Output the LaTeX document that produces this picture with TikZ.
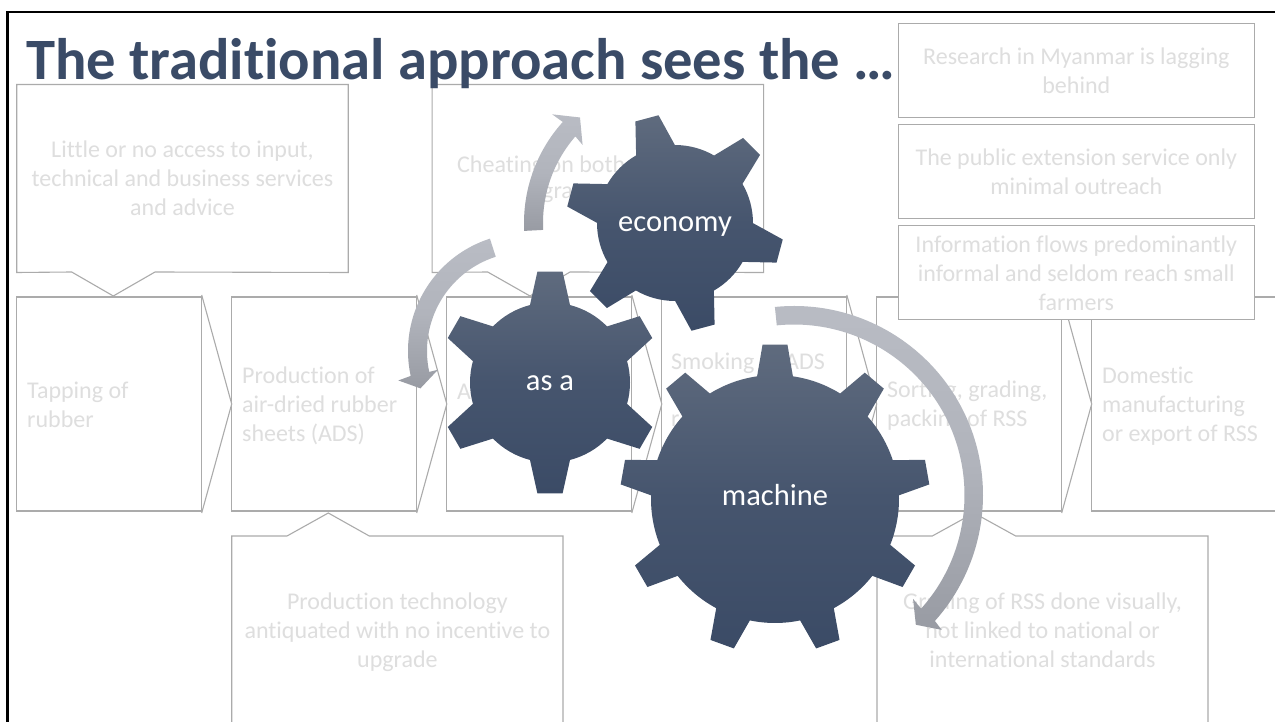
\documentclass[tikz,border=0pt]{standalone}
\usepackage{fontspec}
\setmainfont{Carlito}[Ligatures=NoCommon]
\usepackage{xcolor}
\usepackage{tikz}
\usetikzlibrary{positioning,calc}

\definecolor{titleblue}{HTML}{3A4B67}
\definecolor{gearlight}{HTML}{5F6B7E}
\definecolor{gearmid}{HTML}{46556E}
\definecolor{geardark}{HTML}{3B4B66}
\definecolor{flowlight}{HTML}{B9BCC4}
\definecolor{flowmid}{HTML}{B1B4BC}
\definecolor{flowdark}{HTML}{989BA3}
\definecolor{outlinegray}{HTML}{ABABAB}
\definecolor{fadedtext}{HTML}{DEDEDE}

% centre x, centre y, body radius, tip radius, base half angle, tip half angle, first angle, step
\newcommand{\gearshape}[8]{
    \shade[gearbody, shift={(#1,#2)}] (#7-#5:#3)
        \foreach \a in {1,...,\numexpr360/#8\relax} {
            -- (#7+\a*#8-#8-#5:#3) -- (#7+\a*#8-#8-#6:#4) -- (#7+\a*#8-#8+#6:#4) -- (#7+\a*#8-#8+#5:#3)
            arc[start angle=#7+\a*#8-#8+#5, end angle=#7+\a*#8-#5, radius=#3]
        } -- cycle;
}

\begin{document}
\begin{tikzpicture}[
    x=1pt, y=-1pt,
    outline/.style={draw=outlinegray, line width=1.1pt},
    faded/.style={text=fadedtext, font=\fontsize{24}{29}\selectfont},
    stagebox/.style={rectangle, outline, fill=white, faded, minimum width=185pt, minimum height=214pt, inner sep=0pt, outer sep=0pt},
    stagetext/.style={faded, anchor=west, align=left, inner sep=0pt},
    issue/.style={rectangle, faded, minimum width=331.5pt, minimum height=188pt, inner sep=0pt, outer sep=0pt, align=center},
    sidebox/.style={rectangle, outline, fill=white, faded, minimum width=355.5pt, minimum height=94pt, inner sep=0pt, outer sep=0pt, align=center},
    gearbody/.style={top color=gearlight, bottom color=geardark, middle color=gearmid},
    gearlabel/.style={text=white, anchor=base, font=\fontsize{30.5}{36}\selectfont},
    flow/.style={top color=flowlight, bottom color=flowdark, middle color=flowmid}
]
    \useasboundingbox (0,0) rectangle (1275,722);
    \clip (0,0) rectangle (1275,722);
    \fill[white] (0,0) rectangle (1275,722);

    % Frame
    \draw[black, line width=2.8pt] (7.7,722) -- (7.7,12) -- (1275,12);

    % Value chain
    \node[stagebox] (tapping) at (109.2,404) {};
    \node[stagebox] (production) at (324.2,404) {};
    \node[stagebox] (assembly) at (539.3,404) {};
    \node[stagebox] (smoking) at (754.3,404) {};
    \node[stagebox] (sorting) at (969.2,404) {};
    \node[stagebox] (domestic) at (1184.2,404) {};

    \node[stagetext] (tappingtext) at (27,405) {Tapping of\\rubber};
    \node[stagetext] (productiontext) at (242,406) {Production of\\air-dried rubber\\sheets (ADS)};
    \node[stagetext] (assemblytext) at (457,392) {A};
    \node[stagetext] (smokingtext) at (671,363) {Smoking of ADS};
    \node[stagetext] (smokinglow) at (671,421) {r};
    \node[stagetext] (sortingtext) at (887,406) {Sorting, grading,\\packing of RSS};
    \node[stagetext] (domestictext) at (1102,406) {Domestic\\manufacturing\\or export of RSS};

    % Chevrons
    \draw[outline] ([yshift=2pt]tapping.north east) -- (production.west) -- ([yshift=-2pt]tapping.south east);
    \draw[outline] ([yshift=2pt]production.north east) -- (assembly.west) -- ([yshift=-2pt]production.south east);
    \draw[outline] ([yshift=2pt]assembly.north east) -- (smoking.west) -- ([yshift=-2pt]assembly.south east);
    \draw[outline] ([yshift=2pt]smoking.north east) -- (sorting.west) -- ([yshift=-2pt]smoking.south east);
    \draw[outline] ([yshift=2pt]sorting.north east) -- (domestic.west) -- ([yshift=-2pt]sorting.south east);

    % Callouts
    \node[issue] (services) at (182.5,178.5) {Little or no access to input,\\technical and business services\\and advice};
    \draw[outline] (services.north west) -- (services.north east) -- (services.south east) -- (155,272) -- (113.3,296) -- (71.7,272) -- (services.south west) -- cycle;
    \node[issue] (cheating) at (597.8,178.5) {};
    \draw[outline] (cheating.north west) -- (cheating.north east) -- (cheating.south east) -- (570,272) -- (530,296) -- (487.7,272) -- (cheating.south west) -- cycle;
    \node[faded, anchor=west, inner sep=0pt] (cheatingtop) at (457,166) {Cheating on both};
    \node[faded, anchor=west, inner sep=0pt] (cheatinglow) at (542,195) {gra};
    \node[issue] (technology) at (397.4,632) {Production technology\\antiquated with no incentive to\\upgrade};
    \draw[outline] (231.7,722) -- (231.7,536) -- (287,536) -- (328.3,513) -- (369.3,536) -- (563,536) -- (563,722);
    \node[issue] (gradingbox) at (1042.5,630) {Grading of RSS done visually,\\not linked to national or\\international standards};
    \draw[outline] (877,722) -- (877,536) -- (932.3,536) -- (974,513) -- (1015.7,536) -- (1208,536) -- (1208,722);

    % Side boxes
    \node[sidebox] (research) at (1076.3,70.5) {Research in Myanmar is lagging\\behind};
    \node[sidebox] (extension) at (1076.3,171.5) {The public extension service only\\minimal outreach};
    \node[sidebox] (information) at (1076.3,272.8) {Information flows predominantly\\informal and seldom reach small\\farmers};

    % Title
    \node[anchor=base west, inner sep=0pt, text=titleblue, font=\fontsize{58.6}{64}\selectfont\bfseries] (title) at (26,80) {The traditional approach sees the …};

    % Arrows
    \shade[flow, shift={(675,223)}] (177:151) arc[start angle=177, end angle=222, radius=151] -- (221.5:164) -- (228:142) -- (220.2:121) -- (221:132) arc[start angle=221, end angle=177, radius=132] -- cycle;
    \shade[flow, shift={(526,351)}] (252.2:118) arc[start angle=252.2, end angle=167.8, radius=118] -- (167:131) -- (160.5:112) -- (168:90) -- (167.8:99) arc[start angle=167.8, end angle=252.2, radius=99] -- cycle;
    \shade[flow, shift={(794,495)}] (-95.8:189) arc[start angle=-95.8, end angle=41.8, radius=189] -- (42.4:200) -- (46.8:178) -- (41.1:158) -- (41.8:170.5) arc[start angle=41.8, end angle=-95.8, radius=170.5] -- cycle;

    % Gears
    \gearshape{775}{499}{124}{155}{8.3}{4.6}{-90}{40}
    \gearshape{550}{382.5}{80}{111.5}{14.5}{6.5}{-90}{60}
    \gearshape{675}{223}{78}{109}{14.9}{6.3}{-105}{60}

    \node[gearlabel] (machine) at (775,505) {machine};
    \node[gearlabel] (asa) at (550,390) {as a};
    \node[gearlabel] (economy) at (675,232) {economy};
\end{tikzpicture}
\end{document}
